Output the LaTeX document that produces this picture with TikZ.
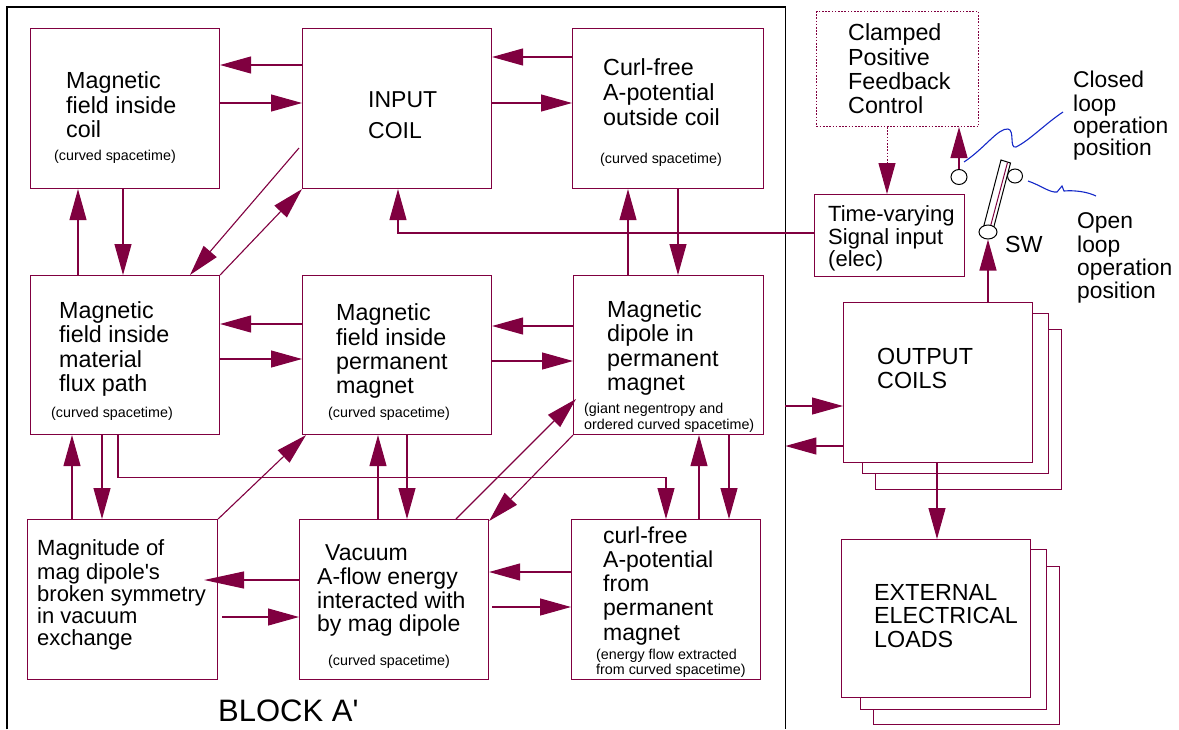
\documentclass[tikz,border=0pt]{standalone}
\usepackage{fontspec}
\setmainfont{Liberation Sans}
\usetikzlibrary{arrows.meta,shapes.geometric,calc}
\definecolor{mag}{RGB}{128,0,64}
\definecolor{sqb}{RGB}{20,40,200}
\begin{document}
\begin{tikzpicture}[x=1pt,y=-1pt,
  box/.style={draw=mag, line width=1.1pt, inner sep=0pt, anchor=north west, fill=white},
  arr/.style={draw=mag, line width=1.1pt, -{Triangle[length=31pt,width=17pt]}},
  lbl/.style={inner sep=0pt, anchor=north west, align=left, font={\fontsize{23.3}{24}\selectfont}},
  sml/.style={inner sep=0pt, anchor=north west, align=left, font={\fontsize{14.3}{16}\selectfont}},
  cont/.style={ellipse, draw=black, line width=1pt, fill=white, inner sep=0pt}
]
\useasboundingbox (0,0) rectangle (1179,729);

% outer block
\node[inner sep=0pt, minimum width=778pt, minimum height=722pt, anchor=north west] (blk) at (7,7) {};
\draw[line width=1.2pt] (blk.south west) -- (blk.north west) -- (blk.north east) -- (blk.south east);

% boxes
\node[box, minimum width=189pt, minimum height=160pt] (b1)  at (30,28) {};
\node[box, minimum width=189pt, minimum height=160pt] (inp) at (302,28) {};
\node[box, minimum width=191pt, minimum height=160pt] (cfo) at (572,28) {};
\node[box, minimum width=189pt, minimum height=159pt] (mat) at (30,275) {};
\node[box, minimum width=189pt, minimum height=159pt] (pmf) at (302,275) {};
\node[box, minimum width=190pt, minimum height=159pt] (dip) at (573,275) {};
\node[box, minimum width=190pt, minimum height=160pt] (mgn) at (27,519) {};
\node[box, minimum width=189pt, minimum height=160pt] (vac) at (299,519) {};
\node[box, minimum width=189pt, minimum height=160pt] (cfp) at (571,519) {};

\node[box, line width=1pt, dash pattern=on 1.6pt off 1.6pt, minimum width=162pt, minimum height=115pt] (clamp) at (816,11) {};
\node[box, minimum width=150pt, minimum height=82pt] (tvs) at (814,194) {};

\node[box, minimum width=186pt, minimum height=160pt] (out3) at (875,329) {};
\node[box, minimum width=186pt, minimum height=160pt] (out2) at (862,313) {};
\node[box, minimum width=189pt, minimum height=160pt] (out)  at (843,302) {};

\node[box, minimum width=186pt, minimum height=158pt] (ext3) at (873,566) {};
\node[box, minimum width=186pt, minimum height=160pt] (ext2) at (860,549) {};
\node[box, minimum width=189pt, minimum height=158pt] (ext)  at (841,539) {};

% switch
\node[cont, minimum width=15pt, minimum height=14pt] (swo) at (1015,176) {};
\filldraw[fill=white, draw=black, line width=1pt] (983,229) -- (1001,160) -- (1010.5,163) -- (992.5,232) -- cycle;
\draw[mag, line width=1pt] (989.5,230) -- (1007.5,162.5);
\node[cont, minimum width=18pt, minimum height=14pt] (swb) at (988,232) {};
\node[cont, minimum width=16pt, minimum height=15pt] (cc)  at (959,177) {};

% blue squiggles
\draw[sqb, line width=1.1pt] (964,162) .. controls (985,148) and (998,128) .. (1008,129)
  .. controls (1015,130) and (1009,149) .. (1016,147) .. controls (1030,140) and (1045,124) .. (1063,112);
\draw[sqb, line width=1.1pt] (1028,181) .. controls (1040,185) and (1050,193) .. (1057,192)
  -- (1062,186) -- (1064,191) .. controls (1075,190) and (1088,192) .. (1096,196);

% connectors, row 1
\draw[arr] (inp.west |- 0,65) -- (b1.east |- 0,65);
\draw[arr] (b1.east |- 0,103) -- (inp.west |- 0,103);
\draw[arr] (cfo.west |- 0,57) -- (inp.east |- 0,57);
\draw[arr] (inp.east |- 0,103) -- (cfo.west |- 0,103);
\draw[arr] ($(inp.west |- 0,148)+(-3,0)$) -- (mat.north -| 190,0);
\draw[arr] (mat.north east) -- (inp.south west);
\draw[arr] (b1.south -| 123,0) -- (mat.north -| 123,0);
\draw[arr] (mat.north -| 78,0) -- (b1.south -| 78,0);
\draw[arr] (tvs.west |- 0,233) -| (inp.south -| 398,0);
\draw[arr] (cfo.south -| 678,0) -- (dip.north -| 678,0);
\draw[arr] (dip.north -| 628,0) -- (cfo.south -| 628,0);

% row 2
\draw[arr] (pmf.west |- 0,324) -- (mat.east |- 0,324);
\draw[arr] (mat.east |- 0,359) -- (pmf.west |- 0,359);
\draw[arr] (dip.west |- 0,326) -- (pmf.east |- 0,326);
\draw[arr] (pmf.east |- 0,361) -- (dip.west |- 0,361);
\draw[arr] (mat.south -| 102,0) -- (mgn.north -| 102,0);
\draw[arr] (mgn.north -| 72,0) -- (mat.south -| 72,0);
\draw[arr] (mat.south -| 118,0) -- ++(0,42) -| (cfp.north -| 666,0);
\draw[arr] (mgn.north east) -- ($(pmf.south west)+(4,0)$);
\draw[arr] (vac.north -| 378,0) -- (pmf.south -| 378,0);
\draw[arr] (pmf.south -| 407,0) -- (vac.north -| 407,0);
\draw[arr] (vac.north -| 456,0) -- ($(dip.west |- 0,399)+(3,0)$);
\draw[arr] (dip.south west) -- ($(vac.north east)+(0,2)$);
\draw[arr] (dip.south -| 729,0) -- (cfp.north -| 729,0);
\draw[arr] (cfp.north -| 699,0) -- (dip.south -| 699,0);

% row 3
\draw[draw=mag, line width=1.1pt, -{Triangle[length=40pt,width=17pt]}] (vac.west |- 0,580) -- ($(mgn.east |- 0,580)+(-14,0)$);
\draw[arr] ($(mgn.east |- 0,617)+(4,0)$) -- (vac.west |- 0,617);
\draw[arr] (cfp.west |- 0,572) -- (vac.east |- 0,572);
\draw[arr] ($(vac.east |- 0,607)+(3,0)$) -- (cfp.west |- 0,607);

% right side
\draw[arr] (blk.east |- 0,406) -- (out.west |- 0,406);
\draw[arr] (out.west |- 0,446) -- (blk.east |- 0,446);
\draw[arr] (out.south -| 937,0) -- (ext.north -| 937,0);
\draw[arr] (out.north -| swb.south) -- (swb.south);
\draw[arr] (cc.north) -- (clamp.south -| cc.north);
\draw[arr, line width=1pt, dash pattern=on 1.6pt off 1.6pt] (clamp.south -| 887,0) -- (tvs.north -| 887,0);

% texts
\node[lbl] (b1t) at (66,71.2) {\strut Magnetic\\field inside\\coil};
\node[sml] (b1s) at (54,148.8) {\strut (curved spacetime)};
\node[lbl, font={\fontsize{23}{31}\selectfont}] (inpt) at (368,85.3) {\strut INPUT\\COIL};
\node[lbl, font={\fontsize{23.3}{25}\selectfont}] (cfot) at (603,57.5) {\strut Curl-free\\A-potential\\outside coil};
\node[sml] (cfos) at (600,151.8) {\strut (curved spacetime)};

\node[lbl, font={\fontsize{23.3}{24.5}\selectfont}] (matt) at (59,300.85) {\strut Magnetic\\field inside\\material\\flux path};
\node[sml] (mats) at (51,405.8) {\strut (curved spacetime)};
\node[lbl] (pmft) at (336,303.2) {\strut Magnetic\\field inside\\permanent\\magnet};
\node[sml] (pmfs) at (328,405.8) {\strut (curved spacetime)};
\node[lbl, font={\fontsize{23.3}{24.5}\selectfont}] (dipt) at (607,299.85) {\strut Magnetic\\dipole in\\permanent\\magnet};
\node[sml] (dips) at (584,401.8) {\strut (giant negentropy and\\ordered curved spacetime)};

\node[lbl, font={\fontsize{22}{22}\selectfont}] (mgnt) at (37,539.6) {\strut Magnitude of\\mag dipole\textquotesingle s\\broken symmetry\\in vacuum\\exchange};
\node[lbl, font={\fontsize{23}{23.3}\selectfont}] (vact) at (317,543.7) {\strut\hspace*{8pt}Vacuum\\A-flow energy\\interacted with\\by mag dipole};
\node[sml] (vacs) at (328,653.8) {\strut (curved spacetime)};
\node[lbl, font={\fontsize{23}{24.2}\selectfont}] (cfpt) at (603,526.06) {\strut curl-free\\A-potential\\from\\permanent\\magnet};
\node[sml, font={\fontsize{14.3}{15}\selectfont}] (cfps) at (596,648.5) {\strut (energy flow extracted\\from curved spacetime)};

\node[lbl] (clampt) at (848,23.2) {\strut Clamped\\Positive\\Feedback\\Control};
\node[lbl, font={\fontsize{22}{20.5}\selectfont}] (tvst) at (828,205.65) {\strut Time-varying\\Signal input\\(elec)};
\node[lbl, font={\fontsize{22.8}{22}\selectfont}] (closedt) at (1073,70.6) {\strut Closed\\loop\\operation\\position};
\node[lbl, font={\fontsize{22.8}{23}\selectfont}] (opent) at (1077,211.9) {\strut Open\\loop\\operation\\position};
\node[lbl] (swt) at (1005,235.2) {\strut SW};
\node[lbl] (outt) at (877,347.2) {\strut OUTPUT\\COILS};
\node[lbl, font={\fontsize{23.3}{23.5}\selectfont}] (extt) at (874,583.55) {\strut EXTERNAL\\ELECTRICAL\\LOADS};
\node[inner sep=0pt, anchor=base west, font={\fontsize{31}{36}\selectfont}] (blkt) at (218,721) {BLOCK A\textquotesingle};
\end{tikzpicture}
\end{document}
